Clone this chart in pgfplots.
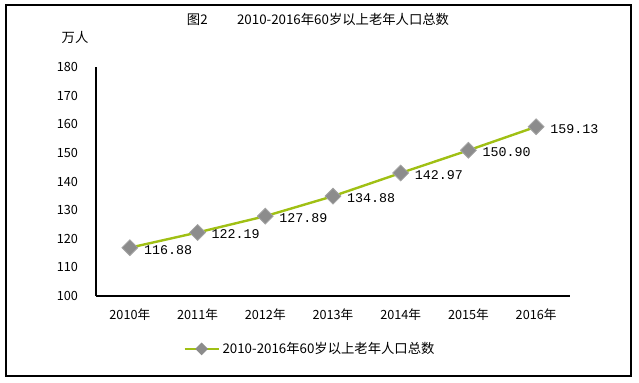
\documentclass[border=0pt]{standalone}
\usepackage{fontspec}
\setmainfont{Noto Sans CJK SC}
\newfontfamily\monofont{Liberation Mono}
\usepackage{pgfplots}
\pgfplotsset{compat=1.18}
\definecolor{lineg}{RGB}{160,192,20}
\definecolor{markg}{RGB}{140,140,140}
\begin{document}
\begin{tikzpicture}
\useasboundingbox (0pt,0pt) rectangle (479.25pt,-286.5pt);
\draw[line width=1.6pt] (4.5pt,-3.75pt) rectangle (473.25pt,-282pt);
\node[font=\fontsize{10}{12}\selectfont] at (238.5pt,-14.25pt) {图2\hspace{2.2em}2010-2016年60岁以上老年人口总数};
\node[font=\fontsize{10}{12}\selectfont] at (56.25pt,-27.75pt) {万人};
\begin{axis}[
  at={(72pt,-222pt)}, anchor=south west,
  scale only axis, width=355.5pt, height=171.75pt,
  xmin=-0.5, xmax=6.5, ymin=100, ymax=180,
  ytick={100,110,...,180},
  xtick={0,...,6},
  xticklabels={2010年,2011年,2012年,2013年,2014年,2015年,2016年},
  axis x line=bottom, axis y line=left,
  axis line style={-, black, line width=0.8pt},
  major tick length=0pt,
  tick label style={font=\fontsize{9.5}{11}\selectfont},
  /pgf/number format/assume math mode=true,
  yticklabel style={xshift=-10pt},
  xticklabel style={yshift=-6pt},
  legend style={at={(0.452,-0.231)}, anchor=center, draw=none, fill=none,
    font=\fontsize{10}{12}\selectfont, legend cell align=left},
  legend image code/.code={
    \draw[lineg, line width=1.8pt] (0cm,0cm) -- (0.9cm,0cm);
    \draw[markg, fill=markg] (0.45cm,0cm) ++(-3.5pt,0) -- ++(3.5pt,3.5pt) -- ++(3.5pt,-3.5pt) -- ++(-3.5pt,-3.5pt) -- cycle;
  },
  clip=false,
]
\addplot[lineg, line width=1.8pt, mark=square*, mark size=4.2pt,
  mark options={rotate=45, fill=markg, draw=markg!80!white, line width=0.6pt},
  nodes near coords, point meta=explicit symbolic,
  every node near coord/.append style={anchor=west, xshift=7pt, yshift=-1.5pt, text=black,
    font=\monofont\fontsize{10}{12}\selectfont}]
  table[meta=lab] {
x y lab
0 116.88 116.88
1 122.19 122.19
2 127.89 127.89
3 134.88 134.88
4 142.97 142.97
5 150.90 150.90
6 159.13 159.13
};
\addlegendentry{2010-2016年60岁以上老年人口总数}
\end{axis}
\end{tikzpicture}
\end{document}
